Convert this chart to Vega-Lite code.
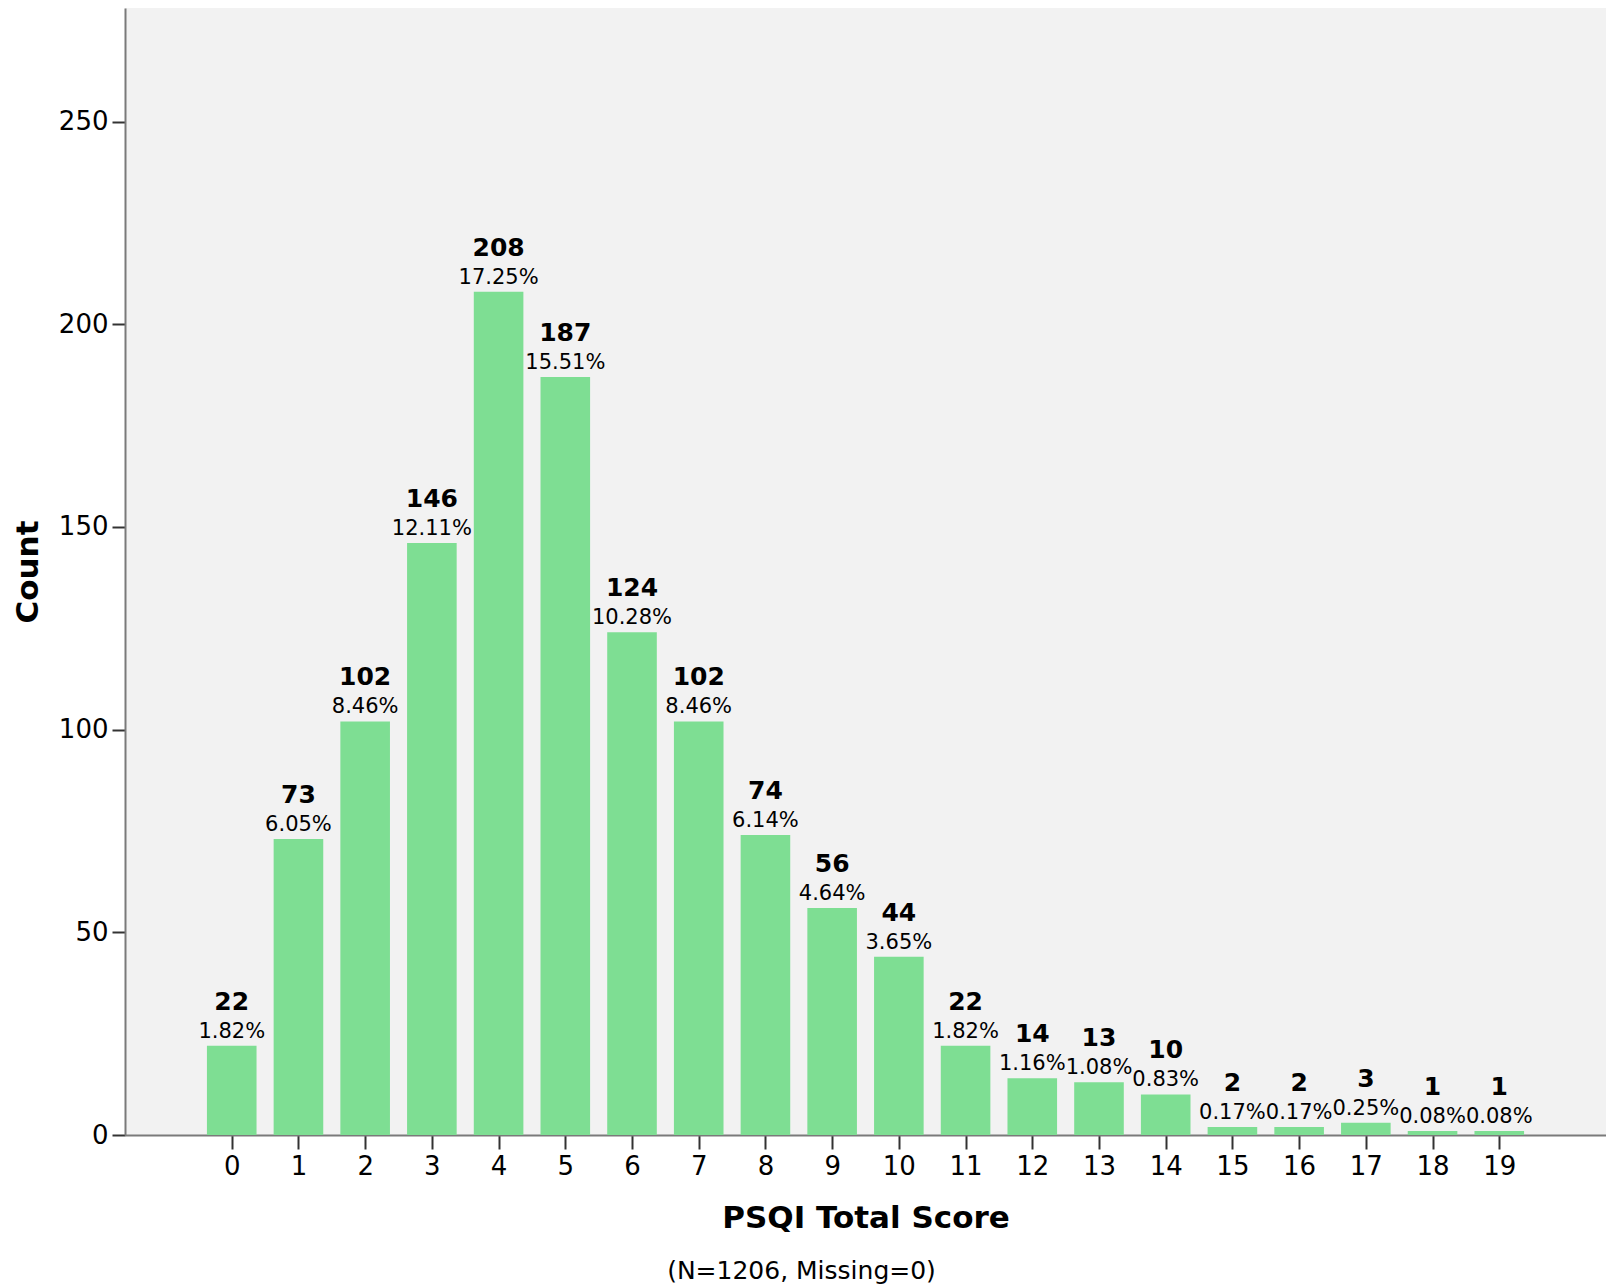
{
  "$schema": "https://vega.github.io/schema/vega-lite/v6.json",
  "autosize": "none",
  "width": 1481,
  "height": 1127,
  "padding": {"left": 125, "top": 8, "right": 0, "bottom": 150},
  "background": "white",
  "config": {
    "view": {"fill": "#f2f2f2", "stroke": null},
    "font": "DejaVu Sans"
  },
  "title": {
    "text": "(N=1206, Missing=0)",
    "orient": "bottom",
    "anchor": "middle",
    "frame": "group",
    "dx": -64,
    "offset": 26,
    "fontSize": 25,
    "fontWeight": "normal",
    "font": "DejaVu Sans",
    "color": "#000000"
  },
  "data": {
    "values": [
      {"score": 0, "count": 22, "pct": "1.82%"},
      {"score": 1, "count": 73, "pct": "6.05%"},
      {"score": 2, "count": 102, "pct": "8.46%"},
      {"score": 3, "count": 146, "pct": "12.11%"},
      {"score": 4, "count": 208, "pct": "17.25%"},
      {"score": 5, "count": 187, "pct": "15.51%"},
      {"score": 6, "count": 124, "pct": "10.28%"},
      {"score": 7, "count": 102, "pct": "8.46%"},
      {"score": 8, "count": 74, "pct": "6.14%"},
      {"score": 9, "count": 56, "pct": "4.64%"},
      {"score": 10, "count": 44, "pct": "3.65%"},
      {"score": 11, "count": 22, "pct": "1.82%"},
      {"score": 12, "count": 14, "pct": "1.16%"},
      {"score": 13, "count": 13, "pct": "1.08%"},
      {"score": 14, "count": 10, "pct": "0.83%"},
      {"score": 15, "count": 2, "pct": "0.17%"},
      {"score": 16, "count": 2, "pct": "0.17%"},
      {"score": 17, "count": 3, "pct": "0.25%"},
      {"score": 18, "count": 1, "pct": "0.08%"},
      {"score": 19, "count": 1, "pct": "0.08%"}
    ]
  },
  "encoding": {
    "x": {
      "field": "score",
      "type": "quantitative",
      "scale": {"domain": [-1.6, 20.6], "nice": false, "zero": false, "padding": 0},
      "axis": {
        "title": "PSQI Total Score",
        "values": [0,1,2,3,4,5,6,7,8,9,10,11,12,13,14,15,16,17,18,19],
        "grid": false,
        "domainColor": "#7a7a7a",
        "domainWidth": 2,
        "tickColor": "#333333",
        "tickWidth": 2,
        "tickSize": 14,
        "labelPadding": 4,
        "labelFontSize": 26,
        "labelColor": "#000000",
        "labelFlush": false,
        "labelOverlap": false,
        "titleFontSize": 31,
        "titleFontWeight": "bold",
        "titleColor": "#000000",
        "titleBaseline": "alphabetic",
        "titleY": 92
      }
    },
    "y": {
      "field": "count",
      "type": "quantitative",
      "scale": {"domain": [0, 278], "nice": false, "padding": 0},
      "axis": {
        "title": "Count",
        "values": [0, 50, 100, 150, 200, 250],
        "grid": false,
        "domainColor": "#7a7a7a",
        "domainWidth": 2,
        "tickColor": "#333333",
        "tickWidth": 2,
        "tickSize": 13,
        "labelPadding": 4,
        "labelFontSize": 26,
        "labelColor": "#000000",
        "titleFontSize": 31,
        "titleFontWeight": "bold",
        "titleColor": "#000000",
        "titleX": -97,
        "titleBaseline": "middle"
      }
    }
  },
  "layer": [
    {
      "mark": {"type": "bar", "width": 49.6, "color": "#7ede93"}
    },
    {
      "mark": {"type": "text", "dy": -8, "baseline": "alphabetic", "fontSize": 21, "color": "#000000"},
      "encoding": {"text": {"field": "pct"}}
    },
    {
      "mark": {"type": "text", "dy": -36, "baseline": "alphabetic", "fontSize": 25, "fontWeight": "bold", "color": "#000000"},
      "encoding": {"text": {"field": "count"}}
    }
  ]
}
